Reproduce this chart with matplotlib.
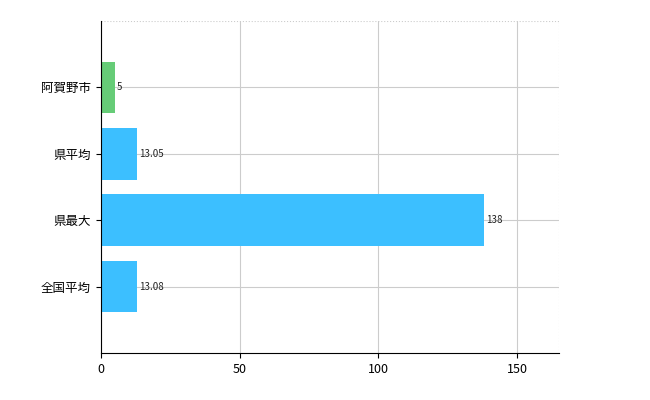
import matplotlib
matplotlib.use("Agg")
import matplotlib.pyplot as plt

categories = ["全国平均", "県最大", "県平均", "阿賀野市"]
values = [13.08, 138, 13.05, 5]
labels = ["13.08", "138", "13.05", "5"]
colors = ["#3cbfff", "#3cbfff", "#3cbfff", "#66cc77"]

plt.rcParams['font.family'] = ['Noto Sans CJK JP', 'DejaVu Sans']
fig = plt.figure(figsize=(6.5, 4), dpi=100)
ax = fig.add_axes([0.155, 0.1175, 0.705, 0.83])
ypos = list(range(len(categories)))
ax.barh(ypos, values, height=0.78, color=colors, zorder=2)
for y, v, t in zip(ypos, values, labels):
    ax.text(v + 0.8, y, t, va="center", ha="left", fontsize=7, color="#222222")
ax.set_yticks(ypos)
ax.set_yticklabels(categories, fontsize=9)
ax.set_xlim(0, 165)
ax.set_ylim(-1, 4)
ax.set_xticks([0, 50, 100, 150])
ax.tick_params(axis="x", labelsize=9)
ax.grid(True, color="#cccccc", linewidth=0.8, zorder=0)
for s in ["top", "right"]:
    ax.spines[s].set_visible(False)
ax.axhline(4, color="#cccccc", linestyle=":", linewidth=0.8)
ax.axvline(165, color="#cccccc", linestyle=":", linewidth=0.8)
fig.savefig("out.png")
